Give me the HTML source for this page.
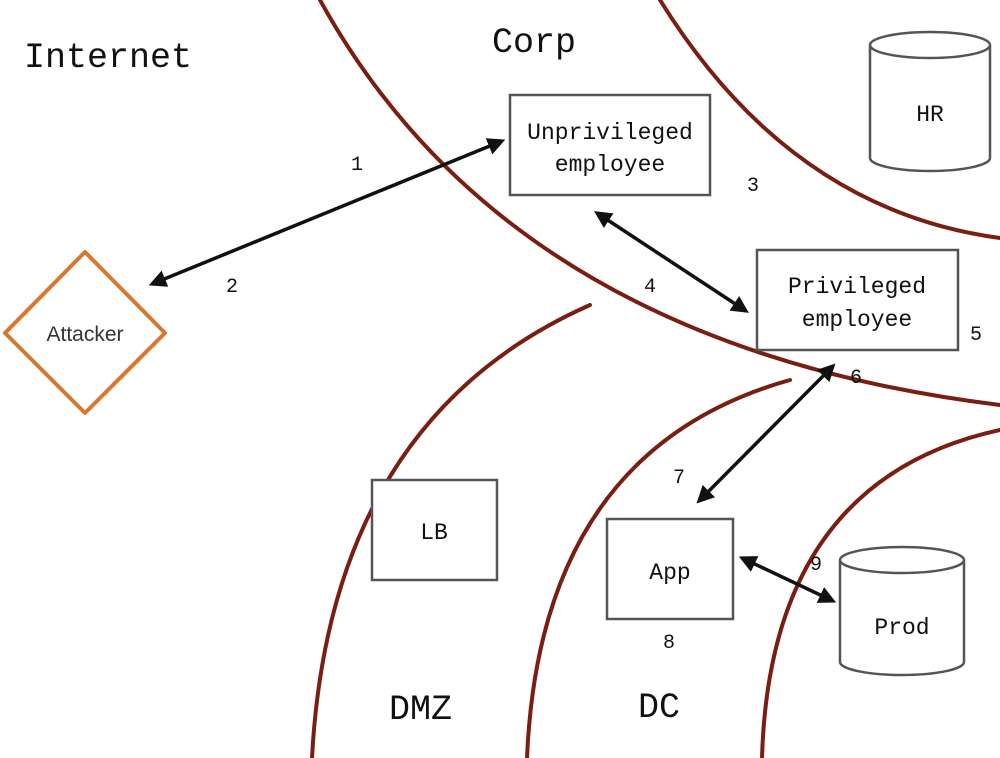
<!DOCTYPE html>
<html><head><meta charset="utf-8"><style>
html,body{margin:0;padding:0;background:#fff;}
svg{display:block;}
.m{font-family:"Liberation Mono",monospace;fill:#111;}
</style></head><body>
<svg width="1000" height="758" viewBox="0 0 1000 758" xmlns="http://www.w3.org/2000/svg">
<defs>
<marker id="ah" viewBox="0 0 10 10" refX="8" refY="5" markerWidth="5" markerHeight="5" orient="auto-start-reverse">
<path d="M0,0 L10,5 L0,10 z" fill="#111"/>
</marker>
</defs>
<g fill="none" stroke="#7a1e12" stroke-width="4" stroke-linecap="round">
<path d="M320,0 Q510,345 1000,405"/>
<path d="M660,0 Q790,210 1000,238"/>
<path d="M590,305 Q330,420 312,758"/>
<path d="M790,380 Q540,450 527,758"/>
<path d="M1000,430 Q770,480 762,758"/>
</g>
<g fill="#fff" stroke="#555" stroke-width="2.5">
<rect x="510" y="95" width="200" height="100"/>
<rect x="757" y="250" width="201" height="100"/>
<rect x="372" y="480" width="125" height="100"/>
<rect x="607" y="519" width="126" height="100"/>
<path d="M870,45 L870,158 A60,13 0 0 0 990,158 L990,45"/>
<ellipse cx="930" cy="45" rx="60" ry="13"/>
<path d="M840,560 L840,662 A62,13 0 0 0 964,662 L964,560"/>
<ellipse cx="902" cy="560" rx="62" ry="13"/>
</g>
<polygon points="85,252 165,333 85,413 5,333" fill="#fff" stroke="#d9782d" stroke-width="4" stroke-linejoin="round"/>
<g stroke="#111" stroke-width="3.5" marker-start="url(#ah)" marker-end="url(#ah)">
<line x1="152" y1="284" x2="502" y2="141"/>
<line x1="597" y1="213" x2="746" y2="311"/>
<line x1="833" y1="366" x2="699" y2="501"/>
<line x1="742" y1="558" x2="833" y2="601"/>
</g>
<g class="m" font-size="35">
<text x="24" y="67">Internet</text>
<text x="492" y="52">Corp</text>
<text x="389" y="719">DMZ</text>
<text x="638" y="717">DC</text>
</g>
<g class="m" font-size="23" text-anchor="middle">
<text x="610" y="139">Unprivileged</text>
<text x="610" y="171">employee</text>
<text x="857" y="293">Privileged</text>
<text x="857" y="326">employee</text>
<text x="434" y="539">LB</text>
<text x="670" y="579">App</text>
<text x="930" y="121">HR</text>
<text x="902" y="634">Prod</text>
</g>
<text x="85" y="341" text-anchor="middle" font-family="Liberation Sans, sans-serif" font-size="21" fill="#333">Attacker</text>
<g class="m" font-size="20" text-anchor="middle">
<text x="357" y="170">1</text>
<text x="232" y="292">2</text>
<text x="753" y="191">3</text>
<text x="650" y="292">4</text>
<text x="976" y="340">5</text>
<text x="856" y="383">6</text>
<text x="679" y="483">7</text>
<text x="669" y="648">8</text>
<text x="816" y="570">9</text>
</g>
</svg>
</body></html>
